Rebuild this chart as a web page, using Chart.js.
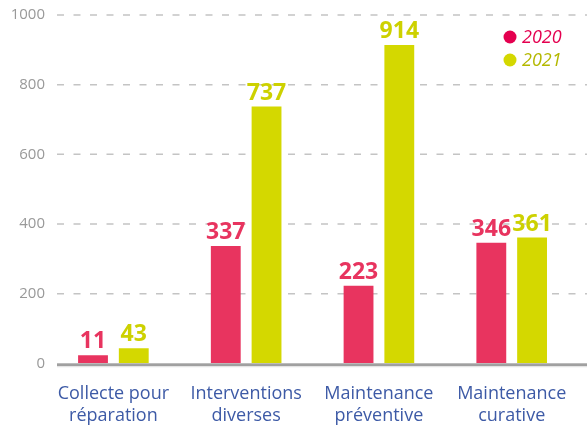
<!DOCTYPE html>
<html lang="fr">
<head>
<meta charset="utf-8">
<script src="https://cdn.jsdelivr.net/npm/chart.js@4.4.1/dist/chart.umd.min.js"></script>
<style>
  html, body { margin: 0; padding: 0; background: #fff; }
  #wrap { width: 587px; height: 430px; }
</style>
</head>
<body>
<div id="wrap"><canvas id="chart" width="587" height="430"></canvas></div>
<script>
// données
const categories = [
  ["Collecte pour", "réparation"],
  ["Interventions", "diverses"],
  ["Maintenance", "préventive"],
  ["Maintenance", "curative"],
];
const years = ["2020", "2021"];
const values2020 = [11, 337, 223, 346];
const values2021 = [43, 737, 914, 361];
const yTicks = [0, 200, 400, 600, 800, 1000];

const barColors = ["#e8345f", "#d4d800"];
const labelColors = ["#e8345f", "#cdd100"];
const legendDot = ["#e4004f", "#d4d800"];
const legendText = ["#e4004f", "#b4b800"];

Chart.defaults.font.family = "'Open Sans', sans-serif";

// grille pointillée + ligne du zéro
const gridPlugin = {
  id: "gridLines",
  beforeDatasetsDraw(chart) {
    const ctx = chart.ctx;
    const y = chart.scales.y;
    ctx.save();
    y.ticks.forEach((t) => {
      const py = y.getPixelForValue(t.value);
      if (t.value === 0) return;
      ctx.setLineDash([7, 9.5]);
      ctx.strokeStyle = "#c4c4c4";
      ctx.lineWidth = 1.5;
      ctx.beginPath();
      ctx.moveTo(57, py);
      ctx.lineTo(chart.width, py);
      ctx.stroke();
    });
    ctx.restore();
  },
  afterDatasetsDraw(chart) {
    const ctx = chart.ctx;
    const py = chart.scales.y.getPixelForValue(0);
    ctx.save();
    ctx.fillStyle = "#a0a0a0";
    ctx.fillRect(57, py, chart.width - 57, 3);
    ctx.fillStyle = "#e6e6e6";
    ctx.fillRect(57, py + 3, chart.width - 57, 1);
    ctx.restore();
  },
};

// valeurs au-dessus des barres
const valuePlugin = {
  id: "valueLabels",
  afterDatasetsDraw(chart) {
    const ctx = chart.ctx;
    ctx.save();
    ctx.font = "bold 23px 'Open Sans', sans-serif";
    ctx.textAlign = "center";
    ctx.textBaseline = "alphabetic";
    chart.data.datasets.forEach((ds, i) => {
      const meta = chart.getDatasetMeta(i);
      ctx.fillStyle = labelColors[i];
      meta.data.forEach((bar, j) => {
        ctx.fillText(String(ds.data[j]), bar.x, bar.y - 7);
      });
    });
    ctx.restore();
  },
};

// légende en haut à droite
const legendPlugin = {
  id: "cornerLegend",
  afterDraw(chart) {
    const ctx = chart.ctx;
    ctx.save();
    ctx.font = "italic 18px 'Open Sans', sans-serif";
    ctx.textBaseline = "middle";
    ctx.textAlign = "left";
    years.forEach((yr, i) => {
      const cy = 37 + i * 23;
      ctx.fillStyle = legendDot[i];
      ctx.beginPath();
      ctx.arc(510, cy, 6.5, 0, Math.PI * 2);
      ctx.fill();
      ctx.fillStyle = legendText[i];
      ctx.fillText(yr, 522, cy + 1);
    });
    ctx.restore();
  },
};

new Chart(document.getElementById("chart"), {
  type: "bar",
  data: {
    labels: categories,
    datasets: [
      { label: years[0], data: values2020, backgroundColor: barColors[0] },
      { label: years[1], data: values2021, backgroundColor: barColors[1] },
    ],
  },
  options: {
    responsive: false,
    animation: false,
    devicePixelRatio: 1,
    categoryPercentage: 0.614,
    barPercentage: 0.732,
    minBarLength: 8,
    layout: { padding: { top: 15, right: 6, left: 0, bottom: 0 } },
    plugins: {
      legend: { display: false },
      tooltip: { enabled: false },
    },
    scales: {
      x: {
        grid: { display: false, drawTicks: false },
        border: { display: false },
        ticks: {
          color: "#3d5aa6",
          font: { size: 18, lineHeight: 1.2 },
          padding: 20,
          maxRotation: 0,
        },
        afterFit: (s) => { s.height = 66.7; },
      },
      y: {
        min: yTicks[0],
        max: yTicks[yTicks.length - 1],
        grid: { display: false, drawTicks: false },
        border: { display: false },
        ticks: {
          stepSize: yTicks[1] - yTicks[0],
          color: "#999999",
          font: { size: 15 },
          padding: 2,
          callback: (v) => String(v),
        },
        afterFit: (s) => { s.width = 47; },
      },
    },
  },
  plugins: [gridPlugin, valuePlugin, legendPlugin],
});
</script>
</body>
</html>
